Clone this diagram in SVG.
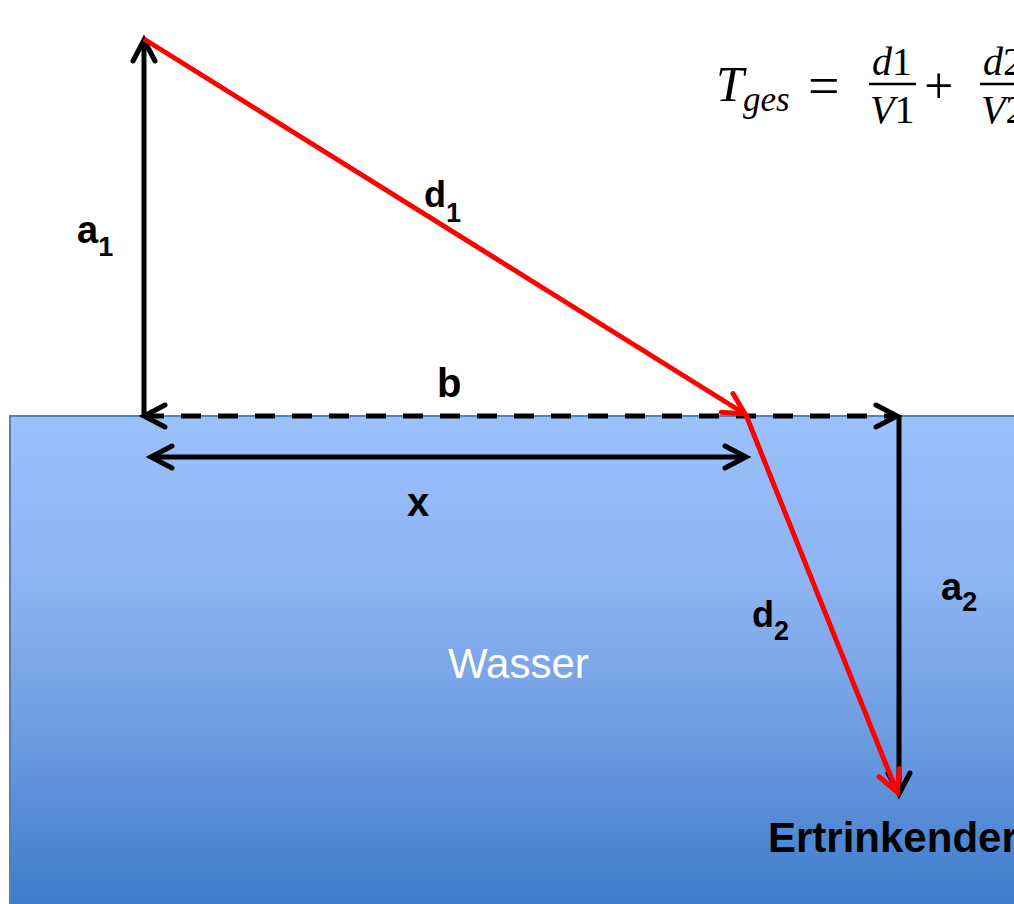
<svg xmlns="http://www.w3.org/2000/svg" width="1014" height="904" viewBox="0 0 1014 904">
  <defs>
    <linearGradient id="water" gradientUnits="userSpaceOnUse" x1="0" y1="416" x2="0" y2="904">
      <stop offset="0" stop-color="#9BC1FD"/>
      <stop offset="0.35" stop-color="#8CB3F2"/>
      <stop offset="0.65" stop-color="#6E9CE1"/>
      <stop offset="1" stop-color="#3E7BCB"/>
    </linearGradient>
    <marker id="ah" markerUnits="userSpaceOnUse" markerWidth="40" markerHeight="40" refX="0" refY="0" viewBox="-30 -20 40 40" orient="auto-start-reverse" overflow="visible">
      <path d="M -21 -11 L 0 0 L -21 11" fill="none" stroke="#000" stroke-width="5" stroke-linecap="round" stroke-linejoin="miter"/>
    </marker>
    <marker id="ahr" markerUnits="userSpaceOnUse" markerWidth="40" markerHeight="40" refX="0" refY="0" viewBox="-30 -20 40 40" orient="auto" overflow="visible">
      <path d="M -21 -11 L 0 0 L -21 11" fill="none" stroke="#FF0000" stroke-width="5" stroke-linecap="round" stroke-linejoin="miter"/>
    </marker>
  </defs>
  <style>
    .blk { stroke: #000; stroke-width: 5; fill: none; }
    .red { stroke: #FF0000; stroke-width: 5; fill: none; }
    .lbl { font-family: "Liberation Sans", Arial, sans-serif; font-weight: bold; fill: #000; }
    .math { font-family: "Liberation Serif", "DejaVu Serif", serif; fill: #000; }
  </style>

  <g id="water-area">
    <rect x="10" y="416" width="1010" height="500" fill="url(#water)" stroke="#4F81BD" stroke-width="2"/>
    <text x="448" y="678" font-family="Liberation Sans, Arial, sans-serif" font-size="42" fill="#FFFFFF">Wasser</text>
  </g>

  <g id="connectors">
    <line id="a1-line" class="blk" x1="144" y1="418" x2="144" y2="40" marker-end="url(#ah)"/>
    <line id="b-line" class="blk" x1="144" y1="416" x2="897" y2="416" stroke-dasharray="20 17" marker-start="url(#ah)" marker-end="url(#ah)"/>
    <line id="x-line" class="blk" x1="151" y1="457" x2="746" y2="457" marker-start="url(#ah)" marker-end="url(#ah)"/>
    <line id="a2-line" class="blk" x1="899" y1="416" x2="899" y2="794" marker-end="url(#ah)"/>
    <line id="d1-line" class="red" x1="144" y1="39" x2="745" y2="414" marker-end="url(#ahr)"/>
    <line id="d2-line" class="red" x1="746" y1="415" x2="897" y2="792" marker-end="url(#ahr)"/>
  </g>

  <g id="label-a1"><text class="lbl" x="77" y="243" font-size="38">a<tspan font-size="27" dy="13">1</tspan></text></g>
  <g id="label-d1"><text class="lbl" x="424" y="207" font-size="36">d<tspan font-size="27" dy="15">1</tspan></text></g>
  <g id="label-b"><text class="lbl" x="437" y="397" font-size="40">b</text></g>
  <g id="label-x"><text class="lbl" x="407" y="516" font-size="40">x</text></g>
  <g id="label-d2"><text class="lbl" x="752" y="627" font-size="36">d<tspan font-size="27" dy="13">2</tspan></text></g>
  <g id="label-a2"><text class="lbl" x="941" y="600" font-size="38">a<tspan font-size="27" dy="11">2</tspan></text></g>
  <g id="label-ertrinkender"><text class="lbl" x="768" y="852" font-size="42">Ertrinkender</text></g>

  <g id="formula">
    <text class="math" x="716" y="101" font-size="50" font-style="italic">T</text>
    <text class="math" x="743" y="111" font-size="35" font-style="italic">ges</text>
    <text class="math" x="808" y="105" font-size="56">=</text>
    <text class="math" x="872" y="75" font-size="40"><tspan font-style="italic">d</tspan>1</text>
    <line x1="869" y1="84" x2="916" y2="84" stroke="#000" stroke-width="2.5"/>
    <text class="math" x="870" y="123" font-size="40"><tspan font-style="italic">V</tspan>1</text>
    <text class="math" x="924" y="103" font-size="52">+</text>
    <text class="math" x="983" y="75" font-size="40"><tspan font-style="italic">d</tspan>2</text>
    <line x1="980" y1="84" x2="1026" y2="84" stroke="#000" stroke-width="2.5"/>
    <text class="math" x="981" y="123" font-size="40"><tspan font-style="italic">V</tspan>2</text>
  </g>
</svg>
